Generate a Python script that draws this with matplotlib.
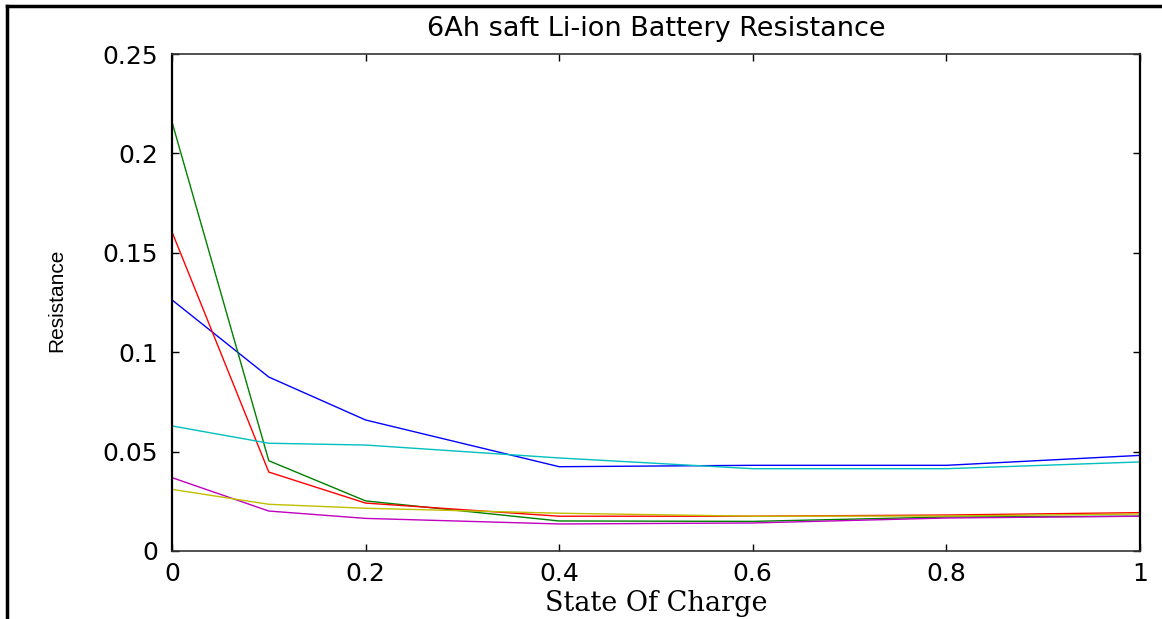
import matplotlib
matplotlib.use("Agg")
import matplotlib.pyplot as plt
from matplotlib.lines import Line2D

soc = [0, 0.1, 0.2, 0.4, 0.6, 0.8, 1.0]
r_blue = [0.1263, 0.0875, 0.0659, 0.0424, 0.0431, 0.0431, 0.0481]
r_red = [0.1605, 0.0397, 0.0241, 0.0175, 0.0175, 0.0181, 0.0193]
r_green = [0.2158, 0.0454, 0.0252, 0.0151, 0.0149, 0.0171, 0.0175]
r_cyan = [0.0629, 0.0542, 0.0533, 0.0468, 0.0414, 0.0414, 0.0448]
r_magenta = [0.0369, 0.0201, 0.0164, 0.0136, 0.0141, 0.0166, 0.0175]
r_yellow = [0.0310, 0.0235, 0.0215, 0.0190, 0.0175, 0.0176, 0.0186]

series = [
    (r_blue, "#0000ff"),
    (r_green, "#008000"),
    (r_red, "#ff0000"),
    (r_cyan, "#00bfbf"),
    (r_magenta, "#bf00bf"),
    (r_yellow, "#bfbf00"),
]

xticks = [0, 0.2, 0.4, 0.6, 0.8, 1]
xticklabels = ["0", "0.2", "0.4", "0.6", "0.8", "1"]
yticks = [0, 0.05, 0.1, 0.15, 0.2, 0.25]
yticklabels = ["0", "0.05", "0.1", "0.15", "0.2", "0.25"]

fig = plt.figure(figsize=(11.62, 6.19), dpi=100)
ax = fig.add_axes([172 / 1162, 68 / 619, (1140 - 172) / 1162, (551 - 54) / 619])

for vals, col in series:
    ax.plot(soc, vals, color=col, linewidth=1.0)

ax.set_xlim(0, 1)
ax.set_ylim(0, 0.25)
ax.set_xticks(xticks)
ax.set_xticklabels(xticklabels, fontsize=18, family="DejaVu Sans")
ax.set_yticks(yticks)
ax.set_yticklabels(yticklabels, fontsize=18, family="DejaVu Sans")
ax.tick_params(axis="both", direction="in", length=5, top=True, right=True, width=1)
ax.tick_params(axis="x", pad=8)
ax.tick_params(axis="y", pad=10)
for s in ["left", "right"]:
    ax.spines[s].set_linewidth(1.6)
    ax.spines[s].set_color("black")
for s in ["top", "bottom"]:
    ax.spines[s].set_linewidth(1.2)
    ax.spines[s].set_color("#333333")

ax.set_title("6Ah saft Li-ion Battery Resistance", fontsize=19.5,
             family="DejaVu Sans", pad=13)
ax.set_xlabel("State Of Charge", fontsize=19.5, family="DejaVu Serif", labelpad=3)
ax.set_ylabel("Resistance", fontsize=15, family="Liberation Sans")
ax.yaxis.set_label_coords((66 - 172) / 968, (551 - 300) / 497)

fig.add_artist(Line2D([7 / 1162, 7 / 1162], [0, 1 - 6 / 619],
                      transform=fig.transFigure, color="black", linewidth=2.5))
fig.add_artist(Line2D([7 / 1162, 1], [1 - 6 / 619, 1 - 6 / 619],
                      transform=fig.transFigure, color="black", linewidth=2.5))

fig.savefig("out.png", dpi=100)
